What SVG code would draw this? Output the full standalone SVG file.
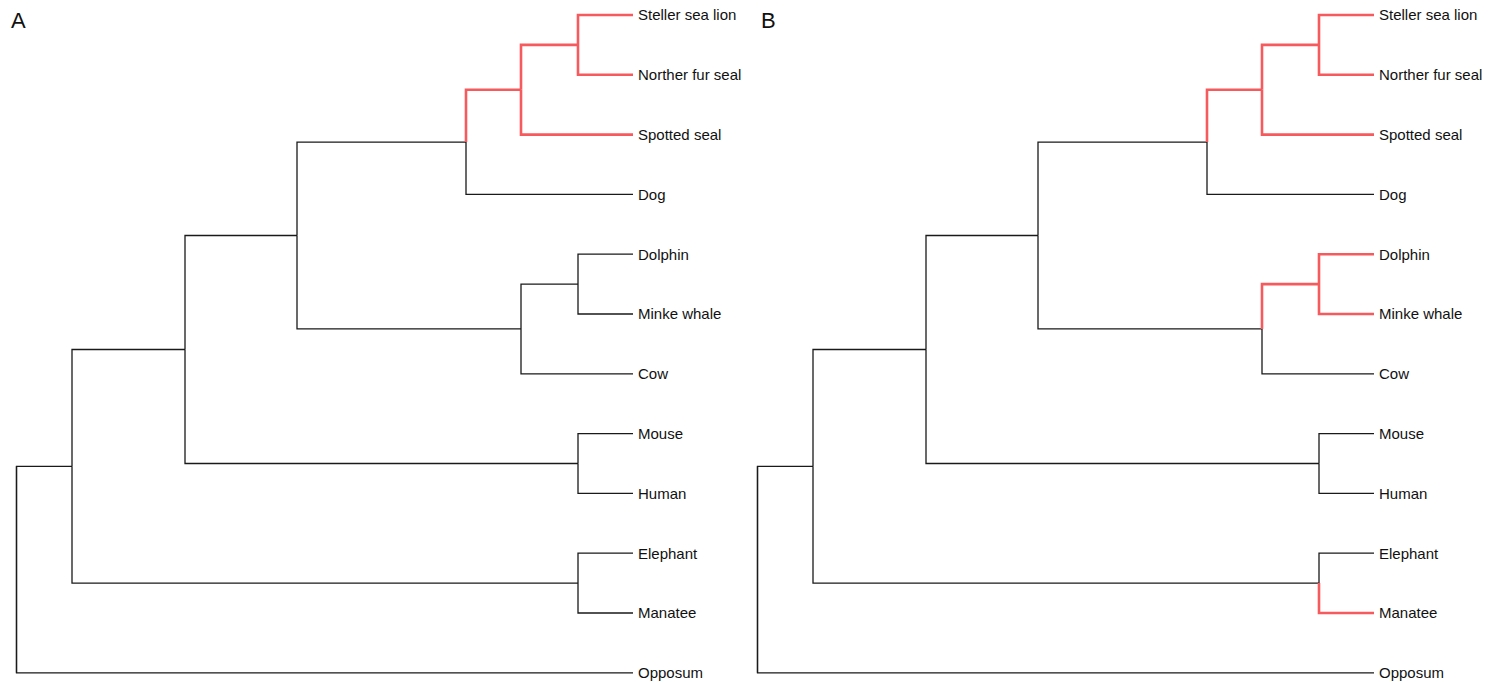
<svg xmlns="http://www.w3.org/2000/svg" width="1488" height="682" viewBox="0 0 1488 682">
<style>
.e{fill:none;stroke:#1a1a1a;stroke-width:1.3}
.r{fill:none;stroke:#f65a5d;stroke-width:2.6}
.t{font-family:"Liberation Sans",Arial,sans-serif;font-size:15px;fill:#111}
.p{font-family:"Liberation Sans",Arial,sans-serif;font-size:22px;fill:#111}
</style>
<rect width="1488" height="682" fill="#fff"/>
<g id="connectors">
<g id="treeA-edges">
<path class="e" d="M16.5 466.3V672.8H633"/>
<path class="e" d="M16.5 672.8V466.3H72"/>
<path class="e" d="M72 466.3V349.5H185"/>
<path class="e" d="M72 466.3V583.1H578"/>
<path class="e" d="M185 349.5V235.5H297"/>
<path class="e" d="M185 349.5V463.5H578"/>
<path class="e" d="M297 235.5V142.08H466"/>
<path class="e" d="M297 235.5V328.95H521"/>
<path class="e" d="M466 142.08V194.4H633"/>
<path class="e" d="M521 328.95V284.1H578"/>
<path class="e" d="M521 328.95V373.8H633"/>
<path class="e" d="M578 284.1V254.2H633"/>
<path class="e" d="M578 284.1V314H633"/>
<path class="e" d="M578 463.5V433.6H633"/>
<path class="e" d="M578 463.5V493.4H633"/>
<path class="e" d="M578 583.1V553.2H633"/>
<path class="e" d="M578 583.1V613H633"/>
<path class="r" d="M466 142.08V89.75H521"/>
<path class="r" d="M521 89.75V44.9H578"/>
<path class="r" d="M521 89.75V134.6H633"/>
<path class="r" d="M578 44.9V15H633"/>
<path class="r" d="M578 44.9V74.8H633"/>
</g>
<g id="treeB-edges" transform="translate(741,0)">
<path class="e" d="M16.5 466.3V672.8H633"/>
<path class="e" d="M16.5 672.8V466.3H72"/>
<path class="e" d="M72 466.3V349.5H185"/>
<path class="e" d="M72 466.3V583.1H578"/>
<path class="e" d="M185 349.5V235.5H297"/>
<path class="e" d="M185 349.5V463.5H578"/>
<path class="e" d="M297 235.5V142.08H466"/>
<path class="e" d="M297 235.5V328.95H521"/>
<path class="e" d="M466 142.08V194.4H633"/>
<path class="e" d="M521 328.95V373.8H633"/>
<path class="e" d="M578 463.5V433.6H633"/>
<path class="e" d="M578 463.5V493.4H633"/>
<path class="e" d="M578 583.1V553.2H633"/>
<path class="r" d="M466 142.08V89.75H521"/>
<path class="r" d="M521 89.75V44.9H578"/>
<path class="r" d="M521 89.75V134.6H633"/>
<path class="r" d="M578 44.9V15H633"/>
<path class="r" d="M578 44.9V74.8H633"/>
<path class="r" d="M521 328.95V284.1H578"/>
<path class="r" d="M578 284.1V254.2H633"/>
<path class="r" d="M578 284.1V314H633"/>
<path class="r" d="M578 583.1V613H633"/>
</g>
</g>
<g id="panelA">
<text class="p" x="11" y="28">A</text>
<g id="A-steller"><text class="t" x="638" y="20.3">Steller sea lion</text></g>
<g id="A-northern"><text class="t" x="638" y="80.1">Norther fur seal</text></g>
<g id="A-spotted"><text class="t" x="638" y="139.9">Spotted seal</text></g>
<g id="A-dog"><text class="t" x="638" y="199.7">Dog</text></g>
<g id="A-dolphin"><text class="t" x="638" y="259.5">Dolphin</text></g>
<g id="A-minke"><text class="t" x="638" y="319.3">Minke whale</text></g>
<g id="A-cow"><text class="t" x="638" y="379.1">Cow</text></g>
<g id="A-mouse"><text class="t" x="638" y="438.9">Mouse</text></g>
<g id="A-human"><text class="t" x="638" y="498.7">Human</text></g>
<g id="A-elephant"><text class="t" x="638" y="558.5">Elephant</text></g>
<g id="A-manatee"><text class="t" x="638" y="618.3">Manatee</text></g>
<g id="A-opposum"><text class="t" x="638" y="678.1">Opposum</text></g>
</g>
<g id="panelB">
<text class="p" x="761" y="28">B</text>
<g id="B-steller"><text class="t" x="1379" y="20.3">Steller sea lion</text></g>
<g id="B-northern"><text class="t" x="1379" y="80.1">Norther fur seal</text></g>
<g id="B-spotted"><text class="t" x="1379" y="139.9">Spotted seal</text></g>
<g id="B-dog"><text class="t" x="1379" y="199.7">Dog</text></g>
<g id="B-dolphin"><text class="t" x="1379" y="259.5">Dolphin</text></g>
<g id="B-minke"><text class="t" x="1379" y="319.3">Minke whale</text></g>
<g id="B-cow"><text class="t" x="1379" y="379.1">Cow</text></g>
<g id="B-mouse"><text class="t" x="1379" y="438.9">Mouse</text></g>
<g id="B-human"><text class="t" x="1379" y="498.7">Human</text></g>
<g id="B-elephant"><text class="t" x="1379" y="558.5">Elephant</text></g>
<g id="B-manatee"><text class="t" x="1379" y="618.3">Manatee</text></g>
<g id="B-opposum"><text class="t" x="1379" y="678.1">Opposum</text></g>
</g>
</svg>
